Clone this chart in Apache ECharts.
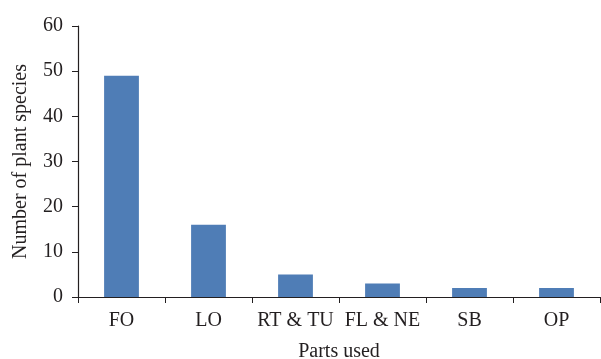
<!DOCTYPE html>
<html><head><meta charset="utf-8">
<script src="https://cdn.jsdelivr.net/npm/echarts@6/dist/echarts.min.js"></script>
<style>html,body{margin:0;padding:0;background:#fff}#c{width:601px;height:359px}</style>
</head><body><div id="c"></div>
<script>
const categories = ["FO", "LO", "RT & TU", "FL & NE", "SB", "OP"];
const values = [49, 16, 5, 3, 2, 2];
const yTicks = [0, 10, 20, 30, 40, 50, 60];

const chart = echarts.init(document.getElementById('c'), null, {renderer: 'canvas'});
const font = "'Liberation Serif', 'DejaVu Serif', serif";
chart.setOption({
  animation: false,
  grid: {left: 78, right: 1, top: 26, bottom: 62, containLabel: false, outerBoundsMode: 'none'},
  xAxis: {
    type: 'category',
    data: categories,
    name: 'Parts used',
    nameLocation: 'middle',
    nameGap: 45,
    nameTextStyle: {fontFamily: font, fontSize: 20, color: '#231f20'},
    axisLine: {lineStyle: {color: '#231f20', width: 1.2}},
    axisTick: {show: true, length: 6, alignWithLabel: false, lineStyle: {color: '#231f20'}},
    axisLabel: {fontFamily: font, fontSize: 20, color: '#231f20', margin: 14, interval: 0}
  },
  yAxis: {
    type: 'value',
    min: 0, max: 60, interval: 10,
    name: 'Number of plant species',
    nameLocation: 'middle',
    nameGap: 47,
    nameTextStyle: {fontFamily: font, fontSize: 20, color: '#231f20'},
    axisLine: {show: true, lineStyle: {color: '#231f20', width: 1.2}},
    axisTick: {show: true, length: 6, lineStyle: {color: '#231f20'}},
    splitLine: {show: false},
    axisLabel: {fontFamily: font, fontSize: 20, color: '#231f20', margin: 15,
      formatter: v => yTicks.includes(v) ? String(v) : ''}
  },
  series: [{
    type: 'bar',
    data: values,
    barWidth: '40%',
    itemStyle: {color: '#4f7db6'}
  }]
});
</script></body></html>
